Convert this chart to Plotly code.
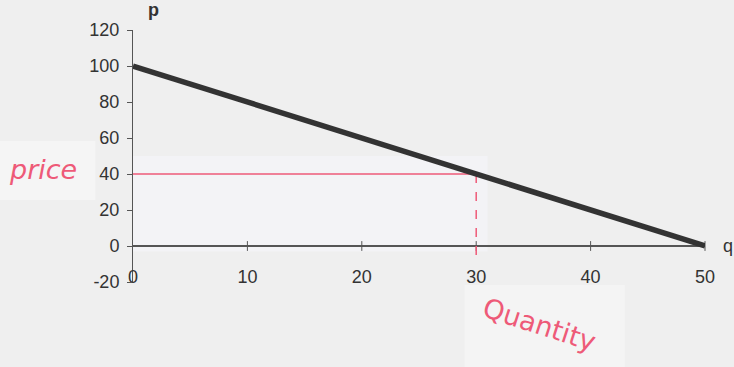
import plotly.graph_objects as go

# Demand line data
q_vals = [0, 50]
p_vals = [100, 0]

# Highlighted point (price / quantity)
q_star = 30
p_star = 40

# Shaded area bounds (data units)
shade_x = [0, 31]
shade_y = [-3, 50]

x_ticks = [0, 10, 20, 30, 40, 50]
y_ticks = [-20, 0, 20, 40, 60, 80, 100, 120]
y_tick_text = ["-20", "0", "20", "40", "60", "80", "100", "120"]

BG = "#efefef"
AX = "#555555"
PINK = "#ee5a78"

fig = go.Figure()

# shaded rectangle
fig.add_shape(type="rect", x0=shade_x[0], x1=shade_x[1], y0=shade_y[0], y1=shade_y[1],
              fillcolor="#f3f3f6", line=dict(width=0), layer="below")
# whiter paper patches behind handwriting
fig.add_shape(type="rect", xref="paper", yref="paper", x0=-0.2325, x1=-0.066, y0=0.325, y1=0.56,
              fillcolor="#f5f5f5", line=dict(width=0), layer="below")
fig.add_shape(type="rect", xref="paper", yref="paper", x0=0.58, x1=0.86, y0=-0.34, y1=-0.012,
              fillcolor="#f4f4f4", line=dict(width=0), layer="below")

# x tick marks on the zero line
fig.add_trace(go.Scatter(x=x_ticks[1:], y=[0] * (len(x_ticks) - 1), mode="markers",
                         marker=dict(symbol="line-ns-open", size=7, color=AX,
                                     line=dict(color=AX, width=1)),
                         hoverinfo="skip", showlegend=False, cliponaxis=False))

# pink guide lines
fig.add_trace(go.Scatter(x=[0, q_star], y=[p_star, p_star], mode="lines",
                         line=dict(color=PINK, width=1.5),
                         showlegend=False, hoverinfo="skip"))
fig.add_trace(go.Scatter(x=[q_star, q_star], y=[p_star, -5], mode="lines",
                         line=dict(color=PINK, width=1.5, dash="dash"),
                         showlegend=False, hoverinfo="skip", cliponaxis=False))

# demand line
fig.add_trace(go.Scatter(x=q_vals, y=p_vals, mode="lines",
                         line=dict(color="#333333", width=5.5),
                         showlegend=False, cliponaxis=False))

fig.update_layout(
    width=734, height=367,
    margin=dict(l=133, r=29, t=30, b=85),
    paper_bgcolor=BG, plot_bgcolor=BG,
    font=dict(family="Liberation Sans, Arial, sans-serif", size=18, color="#333333"),
    xaxis=dict(range=[0, 50], tickvals=x_ticks, ticktext=[str(v) for v in x_ticks],
               showgrid=False, zeroline=False, showline=False, ticks="",
               anchor="free", position=0.071, tickfont=dict(size=18, color="#333333")),
    yaxis=dict(range=[-20, 120], tickvals=y_ticks, ticktext=y_tick_text, showgrid=False,
               zeroline=True, zerolinecolor=AX, zerolinewidth=1.5,
               showline=True, linecolor=AX, linewidth=1,
               ticks="outside", ticklen=5, tickcolor=AX, ticklabelstandoff=4,
               tickfont=dict(size=18, color="#333333")),
    annotations=[
        dict(text="<b>p</b>", xref="paper", yref="paper", x=0.022, y=1.08,
             showarrow=False, font=dict(size=18, color="#333333"),
             xanchor="left", yanchor="middle"),
        dict(text="q", xref="paper", yref="y", x=1.028, y=0,
             showarrow=False, font=dict(size=18, color="#333333"),
             xanchor="left", yanchor="middle"),
        dict(text="<i>price</i>", xref="paper", yref="paper", x=-0.158, y=0.445,
             showarrow=False, font=dict(family="DejaVu Sans, sans-serif", size=27, color=PINK),
             xanchor="center", yanchor="middle"),
        dict(text="Quantity", xref="paper", yref="paper", x=0.71, y=-0.17,
             showarrow=False, textangle=18, xanchor="center", yanchor="middle",
             font=dict(family="DejaVu Sans, sans-serif", size=27, color=PINK)),
    ],
)

fig.write_html("out.html", config={"displayModeBar": False},
               post_script="document.body.style.margin='0';document.body.style.overflow='hidden';")
